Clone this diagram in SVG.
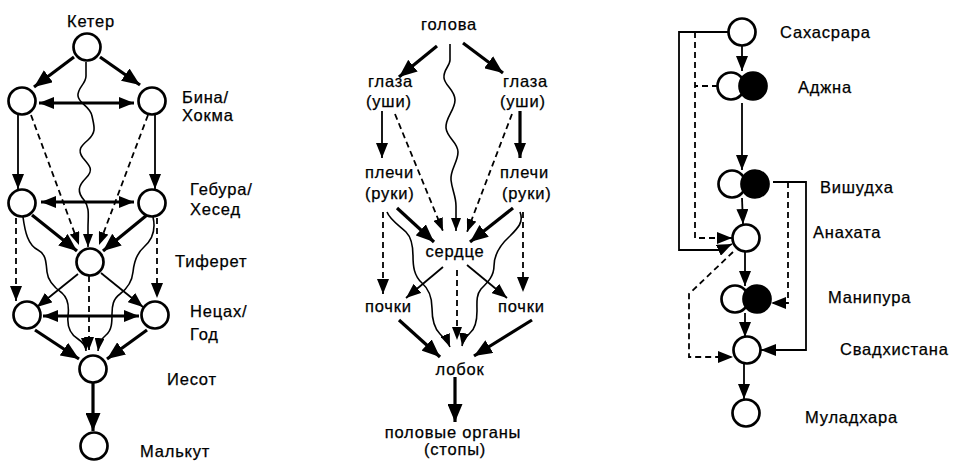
<svg xmlns="http://www.w3.org/2000/svg" width="953" height="463" viewBox="0 0 953 463">
<defs>
<style>
text{font-family:"Liberation Sans",Arial,sans-serif;font-size:16.5px;letter-spacing:0.8px;fill:#000;stroke:#000;stroke-width:0.25px}
.c{text-anchor:middle}
.n{fill:#fff;stroke:#000;stroke-width:2.7}
.f{fill:#000;stroke:#000;stroke-width:2.7}
.l{fill:none;stroke:#000;stroke-width:1.8}
.t{fill:none;stroke:#000;stroke-width:3.2}
.d{fill:none;stroke:#000;stroke-width:1.8;stroke-dasharray:6 4}
.w{fill:none;stroke:#000;stroke-width:1.6}
.big{marker-end:url(#ab)}
.mid{marker-end:url(#am)}
.sm{marker-end:url(#as)}
.dbl{marker-start:url(#am2);marker-end:url(#am)}
</style>
<marker id="ab" markerUnits="userSpaceOnUse" markerWidth="19" markerHeight="15" refX="18" refY="7.5" orient="auto"><path d="M0,0 L18,7.5 L0,15 z"/></marker>
<marker id="am" markerUnits="userSpaceOnUse" markerWidth="15" markerHeight="12" refX="15" refY="6" orient="auto"><path d="M0,0 L15,6 L0,12 z"/></marker>
<marker id="am2" markerUnits="userSpaceOnUse" markerWidth="15" markerHeight="12" refX="15" refY="6" orient="auto-start-reverse"><path d="M0,0 L15,6 L0,12 z"/></marker>
<marker id="as" markerUnits="userSpaceOnUse" markerWidth="13" markerHeight="10" refX="13" refY="5" orient="auto"><path d="M0,0 L13,5 L0,10 z"/></marker>
</defs>

<g id="connectors">
<!-- Left: Tree of Life -->
<line class="t big" x1="74" y1="57" x2="34" y2="87"/>
<line class="t big" x1="100" y1="57" x2="140" y2="85"/>
<line class="t dbl" x1="39" y1="103" x2="134" y2="103"/>
<line class="l mid" x1="18" y1="115" x2="18" y2="189"/>
<line class="l mid" x1="155" y1="115" x2="155" y2="189"/>
<line class="d sm" x1="31" y1="115" x2="79" y2="245"/>
<line class="d sm" x1="148" y1="115" x2="99" y2="245"/>
<path class="w sm" d="M86,62 L86,76 C86,84 77,88 78,96 C79,104 90,106 92,116 C94,126 97,132 88,140 C81,146 77,150 83,158 C90,166 94,170 86,178 C78,186 77,192 84,200 C90,208 88,216 88,228 L88,247"/>
<line class="t dbl" x1="41" y1="202" x2="134" y2="202"/>
<line class="t big" x1="32" y1="215" x2="77" y2="251"/>
<line class="t big" x1="147" y1="215" x2="103" y2="251"/>
<line class="d mid" x1="16" y1="218" x2="16" y2="301"/>
<line class="d mid" x1="157" y1="218" x2="157" y2="298"/>
<line class="l mid" x1="78" y1="274" x2="37" y2="307"/>
<line class="l mid" x1="101" y1="273" x2="143" y2="307"/>
<line class="t dbl" x1="43" y1="316" x2="139" y2="316"/>
<line class="d sm" x1="89" y1="276" x2="89" y2="350"/>
<path class="w sm" d="M23,217 C25,232 28,245 38,250 C46,254 46,262 47,272 C48,282 55,288 62,293 C69,299 69,308 68,316 C67,326 70,334 78,339 C84,343 86,347 86,351"/>
<path class="w sm" d="M153,217 C156,230 152,240 144,247 C137,253 134,262 133,272 C132,282 128,288 120,294 C113,299 112,306 112,314 C112,322 112,330 106,335 C101,339 99,343 98,351"/>
<line class="t big" x1="35" y1="330" x2="79" y2="359"/>
<line class="t big" x1="147" y1="330" x2="107" y2="359"/>
<line class="t big" x1="93" y1="383" x2="93" y2="431"/>

<!-- Middle: body -->
<line class="t big" x1="437" y1="46" x2="399" y2="77"/>
<line class="t big" x1="463" y1="43" x2="503" y2="73"/>
<path class="w sm" d="M450,44 L450,60 C450,66 443,70 444,78 C445,86 455,90 455,100 C455,110 445,118 446,128 C447,138 458,142 458,152 C458,162 450,170 451,180 C452,190 456,196 456,206 L456,231"/>
<line class="l mid" x1="382" y1="111" x2="382" y2="158"/>
<line class="t mid" x1="520" y1="111" x2="520" y2="158"/>
<line class="d sm" x1="395" y1="114" x2="443" y2="231"/>
<line class="d sm" x1="512" y1="114" x2="467" y2="232"/>
<line class="t big" x1="397" y1="208" x2="434" y2="242"/>
<line class="t big" x1="513" y1="208" x2="470" y2="242"/>
<line class="d mid" x1="383" y1="212" x2="383" y2="294"/>
<line class="d mid" x1="523" y1="212" x2="523" y2="292"/>
<path class="w sm" d="M387,212 C390,220 400,226 406,232 C412,238 413,246 413,256 C413,266 414,276 422,283 C430,290 432,298 432,308 C432,318 434,328 440,334 C445,339 448,342 450,347"/>
<path class="w sm" d="M520,212 C524,222 518,228 510,236 C500,245 494,254 494,266 C494,276 488,282 481,289 C476,295 477,303 477,311 C477,320 476,328 470,333 C466,337 463,340 462,346"/>
<line class="l mid" x1="443" y1="267" x2="406" y2="298"/>
<line class="l mid" x1="467" y1="265" x2="507" y2="298"/>
<line class="d sm" x1="457" y1="270" x2="457" y2="340"/>
<line class="t big" x1="399" y1="320" x2="440" y2="357"/>
<line class="t big" x1="532" y1="320" x2="474" y2="356"/>
<line class="t big" x1="455" y1="377" x2="455" y2="422"/>

<!-- Right: chakras -->
<line class="l mid" x1="742" y1="46" x2="742" y2="71"/>
<line class="l mid" x1="742" y1="103" x2="742" y2="170"/>
<line class="l mid" x1="742" y1="198" x2="743" y2="224"/>
<line class="l mid" x1="745" y1="252" x2="745" y2="286"/>
<line class="l mid" x1="745" y1="313" x2="745" y2="337"/>
<line class="l mid" x1="744" y1="364" x2="744" y2="399"/>
<polyline class="l mid" points="729,32 679,32 679,250 719,250 732,244"/>
<path class="d mid" d="M695,32 L695,238 L732,238"/>
<path class="d" d="M718,86 L695,86"/>
<polyline class="l mid" points="773,182 806,182 806,350 761,350"/>
<polyline class="d mid" points="788,182 788,303 771,303"/>
<polyline class="d mid" points="733,252 689,294 689,357 733,357"/>
</g>

<g id="keter"><circle class="n" cx="87" cy="47" r="13.5"/><text class="c" x="91" y="27">Кетер</text></g>
<g id="bina-left"><circle class="n" cx="22" cy="101" r="13.5"/></g>
<g id="hokhma-right"><circle class="n" cx="152" cy="101" r="13.5"/><text x="182" y="103">Бина/</text><text x="182" y="121">Хокма</text></g>
<g id="gebura-left"><circle class="n" cx="22" cy="203" r="13.5"/></g>
<g id="hesed-right"><circle class="n" cx="152" cy="203" r="13.5"/><text x="190" y="195">Гебура/</text><text x="190" y="215">Хесед</text></g>
<g id="tiferet"><circle class="n" cx="90" cy="262" r="13.5"/><text x="175" y="267">Тиферет</text></g>
<g id="netsah-left"><circle class="n" cx="27" cy="315" r="13.5"/></g>
<g id="hod-right"><circle class="n" cx="155" cy="315" r="13.5"/><text x="190" y="317">Нецах/</text><text x="190" y="340">Год</text></g>
<g id="iesod"><circle class="n" cx="93" cy="369" r="13.5"/><text x="167" y="385">Иесот</text></g>
<g id="malkut"><circle class="n" cx="94" cy="446" r="13.5"/><text x="140" y="457">Малькут</text></g>

<g id="golova"><text class="c" x="449" y="30">голова</text></g>
<g id="glaza-left"><text x="368" y="87">глаза</text><text x="366" y="107">(уши)</text></g>
<g id="glaza-right"><text x="503" y="87">глаза</text><text x="500" y="107">(уши)</text></g>
<g id="plechi-left"><text x="365" y="178">плечи</text><text x="365" y="199">(руки)</text></g>
<g id="plechi-right"><text x="500" y="178">плечи</text><text x="502" y="199">(руки)</text></g>
<g id="serdce"><text class="c" x="455" y="257">сердце</text></g>
<g id="pochki-left"><text x="365" y="312">почки</text></g>
<g id="pochki-right"><text x="498" y="312">почки</text></g>
<g id="lobok"><text class="c" x="460" y="375">лобок</text></g>
<g id="polovye"><text class="c" x="453" y="438">половые органы</text><text class="c" x="455" y="455">(стопы)</text></g>

<g id="sahasrara"><circle class="n" cx="742" cy="32" r="13.5"/><text x="780" y="38">Сахасрара</text></g>
<g id="adzhna"><circle class="n" cx="731" cy="86" r="13.5"/><circle class="f" cx="753" cy="86" r="13.5"/><text x="798" y="93">Аджна</text></g>
<g id="vishudha"><circle class="n" cx="732" cy="184" r="13.5"/><circle class="f" cx="755" cy="184" r="13.5"/><text x="820" y="193">Вишудха</text></g>
<g id="anahata"><circle class="n" cx="746" cy="238" r="13.5"/><text x="813" y="238">Анахата</text></g>
<g id="manipura"><circle class="n" cx="735" cy="299" r="13.5"/><circle class="f" cx="757" cy="299" r="13.5"/><text x="828" y="303">Манипура</text></g>
<g id="svadhistana"><circle class="n" cx="747" cy="350" r="13.5"/><text x="840" y="355">Свадхистана</text></g>
<g id="muladhara"><circle class="n" cx="746" cy="413" r="13.5"/><text x="805" y="423">Муладхара</text></g>
</svg>
